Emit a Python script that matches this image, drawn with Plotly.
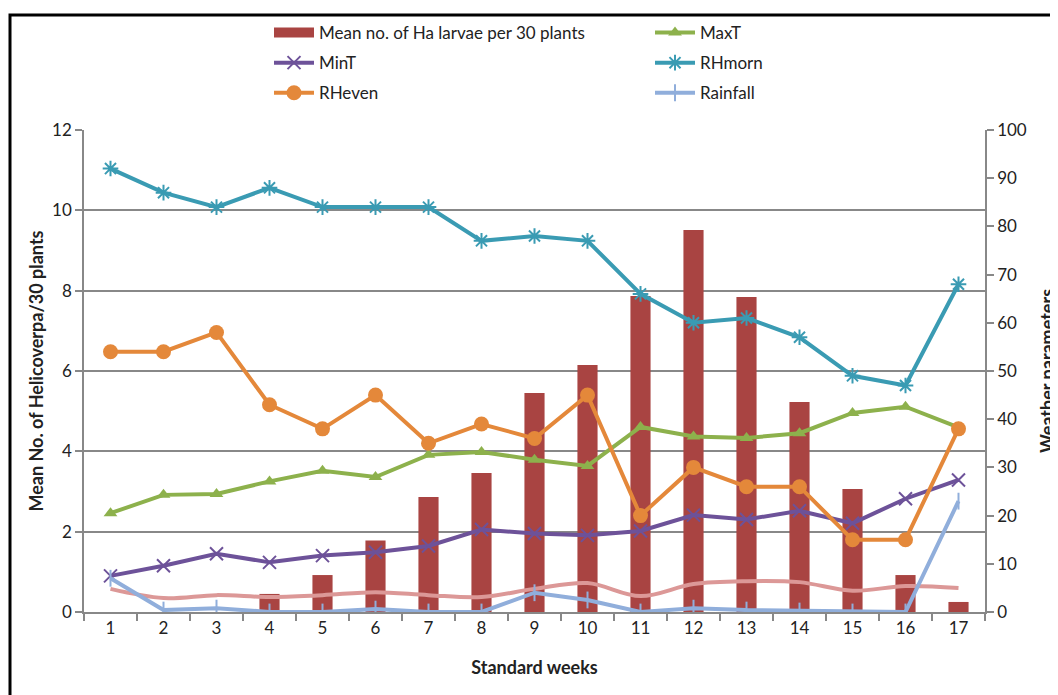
import plotly.graph_objects as go

weeks = [str(i) for i in range(1, 18)]
larvae = [0, 0, 0, 0.45, 0.92, 1.78, 2.86, 3.46, 5.45, 6.15, 7.87, 9.51, 7.84, 5.23, 3.06, 0.92, 0.25]
maxT = [20.5, 24.3, 24.5, 27.1, 29.3, 28.0, 32.6, 33.2, 31.6, 30.3, 38.4, 36.4, 36.1, 37.1, 41.3, 42.6, 38.3]
minT = [7.5, 9.6, 12.1, 10.3, 11.7, 12.4, 13.7, 17.1, 16.3, 15.9, 16.8, 20.1, 19.2, 21.0, 18.4, 23.5, 27.4]
rh_morn = [92, 87, 84, 88, 84, 84, 84, 77, 78, 77, 66, 60, 61, 57, 49, 47, 68]
rh_even = [54, 54, 58, 43, 38, 45, 35, 39, 36, 45, 20, 30, 26, 26, 15, 15, 38]
rainfall = [7.0, 0.4, 0.8, 0.0, 0.0, 0.6, 0.0, 0.0, 4.0, 2.5, 0.0, 0.8, 0.4, 0.2, 0.0, 0.0, 23.0]
other = [4.8, 2.9, 3.5, 3.1, 3.5, 4.1, 3.5, 3.1, 4.8, 6.0, 3.3, 5.8, 6.4, 6.2, 4.4, 5.4, 5.0]

FONT = "Lato"
BAR_C = "#A94442"
fig = go.Figure()
fig.add_trace(go.Bar(x=weeks, y=larvae, name="Mean no. of Ha larvae per 30 plants", showlegend=False,
                     marker=dict(color=BAR_C, line=dict(width=0)), width=0.38, yaxis="y"))
# legend swatch for the bars (wide rectangle, as in the reference)
fig.add_trace(go.Scatter(x=[None], y=[None], name="Mean no. of Ha larvae per 30 plants", mode="lines",
                         line=dict(color=BAR_C, width=13), legend="legend", legendgroup="a", legendrank=1))
fig.add_trace(go.Scatter(x=weeks, y=other, mode="lines", showlegend=False,
                         line=dict(color="#DC9897", width=4, shape="spline"), yaxis="y2"))
fig.add_trace(go.Scatter(x=weeks, y=maxT, name="MaxT", mode="lines+markers",
                         line=dict(color="#8DB14C", width=4), legend="legend2", legendgroup="b", legendrank=1,
                         marker=dict(symbol="triangle-up", size=12, color="#8DB14C"), yaxis="y2"))
fig.add_trace(go.Scatter(x=weeks, y=minT, name="MinT", mode="lines+markers",
                         line=dict(color="#6D5299", width=4), legend="legend", legendgroup="c", legendrank=2,
                         marker=dict(symbol="x-thin-open", size=13, line=dict(color="#6D5299", width=2)), yaxis="y2"))
fig.add_trace(go.Scatter(x=weeks, y=rh_morn, name="RHmorn", mode="lines+markers",
                         line=dict(color="#3A9BB3", width=4), legend="legend2", legendgroup="d", legendrank=2,
                         marker=dict(symbol="asterisk-open", size=13, line=dict(color="#3A9BB3", width=2)), yaxis="y2"))
fig.add_trace(go.Scatter(x=weeks, y=rh_even, name="RHeven", mode="lines+markers",
                         line=dict(color="#E4883A", width=4), legend="legend", legendgroup="e", legendrank=3,
                         marker=dict(symbol="circle", size=15, color="#E4883A"), yaxis="y2"))
fig.add_trace(go.Scatter(x=weeks, y=rainfall, name="Rainfall", mode="lines+markers",
                         line=dict(color="#90AEDB", width=4), legend="legend2", legendgroup="f", legendrank=3,
                         marker=dict(symbol="line-ns-open", size=12, line=dict(color="#90AEDB", width=2)), yaxis="y2"))

# figure is placed at (8, 8) in the page by the default body margin
W, H = 1050, 687
X0, X1, Y0, Y1 = 76, 977, 122, 604   # plot area in figure pixels
L, R, T, B = X0, W - X1, Y0, H - Y1
pw, ph = X1 - X0, Y1 - Y0

def px(x):
    return (x - X0) / pw

def py(y):
    return (Y1 - y) / ph

leg_common = dict(orientation="v", xanchor="left", yanchor="top", itemwidth=40, tracegroupgap=5,
                  font=dict(family=FONT, size=17, color="#222"), bgcolor="rgba(0,0,0,0)", traceorder="grouped")

fig.update_layout(
    width=W, height=H,
    margin=dict(l=L, r=R, t=T, b=B, autoexpand=False),
    paper_bgcolor="white", plot_bgcolor="white",
    font=dict(family=FONT, size=17, color="#222"),
    showlegend=True,
    legend=dict(x=px(261), y=py(7), **leg_common),
    legend2=dict(x=px(642), y=py(7), **leg_common),
    xaxis=dict(type="category", range=[-0.5, len(weeks) - 0.5], autorange=False,
               tickson="boundaries", ticks="outside", ticklen=7, tickwidth=1.5,
               tickcolor="#888", showline=True, linecolor="#888", linewidth=1.5, showgrid=False,
               tickfont=dict(size=17), automargin=False,
               title=dict(text="<b>Standard weeks</b>", font=dict(size=18), standoff=24)),
    yaxis=dict(range=[0, 12], dtick=2, ticks="outside", ticklen=7, tickwidth=1.5, tickcolor="#888",
               showline=True, linecolor="#888", linewidth=1.5, showgrid=True, gridcolor="#888", gridwidth=1.5,
               zeroline=False, tickfont=dict(size=17), automargin=False,
               title=dict(text="<b>Mean No. of Helicoverpa/30 plants</b>", font=dict(size=18), standoff=4)),
    yaxis2=dict(range=[0, 100], dtick=10, overlaying="y", side="right", ticks="outside", ticklen=7,
                tickwidth=1.5, tickcolor="#888", showline=True, linecolor="#888", linewidth=1.5,
                showgrid=False, zeroline=False, tickfont=dict(size=17), automargin=False,
                title=dict(text="<b>Weather parameters</b>", font=dict(size=18), standoff=22)),
    shapes=[dict(type="path", xref="paper", yref="paper",
                 path=f"M {px(W + 20)} {py(7)} L {px(2)} {py(7)} L {px(2)} {py(H + 20)}",
                 line=dict(color="black", width=3))],
)

fig.write_html("out.html")
